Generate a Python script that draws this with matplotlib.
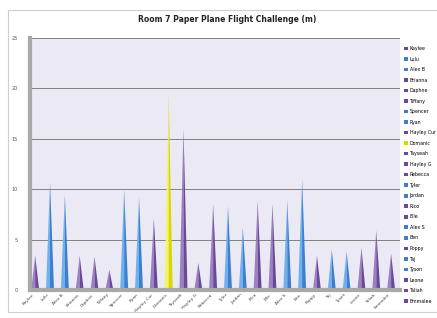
import numpy as np
import matplotlib
matplotlib.use('Agg')
import matplotlib.pyplot as plt
from matplotlib.patches import Rectangle, Patch

# Data
names = ['Kaylee', 'Lulu', 'Alex B', 'Brianna', 'Daphne', 'Tiffany', 'Spencer',
         'Ryan', 'Hayley Cur', 'Domanic', 'Tayseah', 'Hayley G', 'Rebecca',
         'Tyler', 'Jordan', 'Rico', 'Elle', 'Alex S', 'Ben', 'Poppy', 'Taj',
         'Tyson', 'Leone', 'Taliah', 'Emmalee']
distances = [3.4, 10.7, 9.4, 3.4, 3.3, 2.0, 10.0, 9.2, 7.1, 19.4, 16.0, 2.7,
             8.5, 8.3, 6.2, 8.8, 8.5, 8.9, 11.0, 3.4, 4.0, 3.8, 4.2, 5.9, 3.6]
groups = ['p', 'b', 'b', 'p', 'p', 'p', 'b', 'b', 'p', 'y', 'p', 'p', 'p',
          'b', 'b', 'p', 'p', 'b', 'b', 'p', 'b', 'b', 'p', 'p', 'p']
yticks = [0, 5, 10, 15, 20, 25]

light = {'p': '#9b80c4', 'b': '#6fb0ee', 'y': '#f4f46a'}
dark = {'p': '#6a4a98', 'b': '#3d7fcc', 'y': '#d8d800'}

fig = plt.figure(figsize=(4.37, 3.18), dpi=100)
fig.patches.append(Rectangle((8/437, 1-312/318), 1, 302/318, transform=fig.transFigure,
                             fill=False, edgecolor='#cfcfcf', lw=0.8))

ax = fig.add_axes([30/437, 1-290/318, 370/437, 252/318])
ax.set_facecolor('#ebe9f3')

hw = 0.27
for i, (v, g) in enumerate(zip(distances, groups)):
    # two halves for a bit of 3D cone shading
    ax.fill([i-hw, i, i], [0, v, 0], color=light[g], lw=0)
    ax.fill([i, i+hw, i], [0, 0, v], color=dark[g], lw=0)

ax.set_xlim(-0.35, 24.6)
ax.set_ylim(0, 25)
ax.set_yticks(yticks)
ax.set_yticklabels([str(t) for t in yticks], fontsize=3.5, color='#555555')
ax.yaxis.grid(True, color='#808080', lw=0.7)
ax.set_axisbelow(True)
ax.tick_params(axis='y', length=0, pad=9)
ax.set_xticks(range(len(names)))
ax.set_xticklabels(names, rotation=45, ha='right', fontsize=3.2, color='#444444')
ax.tick_params(axis='x', length=0, pad=2)
for s in ['top', 'right']:
    ax.spines[s].set_visible(False)
ax.spines['left'].set_color('#a8a8a8')
ax.spines['left'].set_linewidth(3)
ax.spines['bottom'].set_color('#a8a8a8')
ax.spines['bottom'].set_linewidth(3)

fig.text(227/437, 1-20/318, 'Room 7 Paper Plane Flight Challenge (m)',
         ha='center', va='center', fontsize=5.5, fontweight='bold', color='#222222')

handles = [Patch(facecolor=dark[g], edgecolor='none') for g in groups]
fig.legend(handles, names, loc='upper left', bbox_to_anchor=(404/437, 1-46/318),
           fontsize=3.4, frameon=False, handlelength=0.8, handleheight=0.8,
           handletextpad=0.4, labelspacing=1.17, borderaxespad=0, borderpad=0)

fig.savefig('out.png', dpi=100)
